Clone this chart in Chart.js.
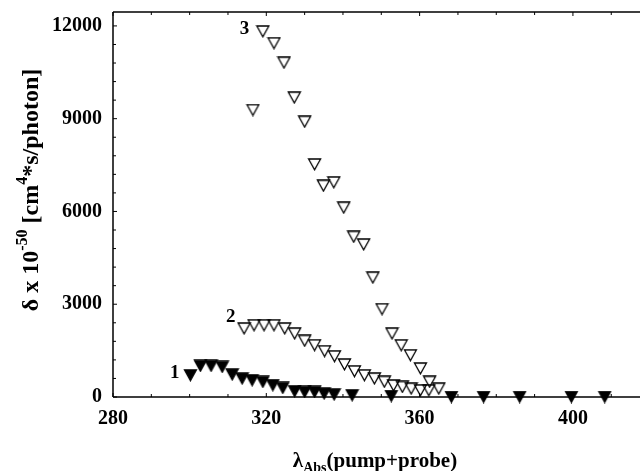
<!DOCTYPE html>
<html>
<head>
<meta charset="utf-8">
<script src="https://cdn.jsdelivr.net/npm/chart.js@4.4.0/dist/chart.umd.min.js"></script>
<style>
  html, body { margin:0; padding:0; background:#fff; }
</style>
</head>
<body>
<canvas id="myChart" width="640" height="471"></canvas>
<script>
//---------------------------------Data-------------------------------//
// series 1 (filled triangles)
var wl1 = [300.2, 302.8, 305.6, 308.5, 311.1, 313.7, 316.3, 319.1, 321.7, 324.3, 327.4, 330.0, 332.6, 335.1, 337.7, 342.4, 352.6, 368.3, 376.7, 386.1, 399.6, 408.3];
var delta1 = [700, 1005, 1005, 972, 725, 595, 540, 486, 380, 292, 185, 162, 162, 110, 78, 55, 32, 0, 0, 0, 0, 0];

// series 2 (open triangles)
var wl2 = [314.2, 316.8, 319.4, 322.0, 324.8, 327.4, 330.0, 332.6, 335.2, 337.8, 340.4, 343.0, 345.6, 348.2, 350.8, 353.2, 355.5, 357.8, 360.2, 362.4, 365.0];
var delta2 = [2215, 2320, 2320, 2320, 2215, 2050, 1815, 1675, 1480, 1315, 1050, 830, 700, 595, 490, 370, 325, 270, 215, 215, 270];

// series 3 (open triangles)
var wl3 = [316.5, 319.1, 322.0, 324.6, 327.3, 330.0, 332.6, 334.9, 337.6, 340.2, 342.8, 345.4, 347.8, 350.2, 352.8, 355.2, 357.6, 360.2, 362.6];
var delta3 = [9280, 11820, 11440, 10810, 9680, 8900, 7520, 6830, 6940, 6120, 5180, 4930, 3860, 2840, 2050, 1670, 1350, 920, 490];

// curve numbers and where they sit (data units)
var curveNames = ['1', '2', '3'];
var curveNameX = [296.1, 310.7, 314.3];
var curveNameY = [777, 2600, 11913];

// labelled ticks
var xMajor = [280, 320, 360, 400];
var yMajor = [0, 3000, 6000, 9000, 12000];
// small tick steps
var xMinorStep = 10;
var yMinorStep = 600;

var serif = "'Liberation Serif', 'Times New Roman', serif";

function toPoints(xs, ys){
  var pts = [];
  for (var i = 0; i < xs.length; i++){
    pts.push({x: xs[i], y: ys[i]});
  }
  return pts;
}

function isMajor(list, v){
  for (var i = 0; i < list.length; i++){
    if (Math.abs(list[i] - v) < 1e-6) return true;
  }
  return false;
}

function tickList(min, max, step){
  var out = [];
  for (var v = min; v <= max + 1e-9; v += step){
    out.push({value: v});
  }
  return out;
}

//Hàm vẽ tam giác ngược làm marker
function makeTriangle(filled){
  var c = document.createElement('canvas');
  c.width = 15; c.height = 13;
  var ctx = c.getContext('2d');
  ctx.beginPath();
  ctx.moveTo(1.5, 1);
  ctx.lineTo(13.5, 1);
  ctx.lineTo(7.5, 11.8);
  ctx.closePath();
  if (filled){ ctx.fillStyle = '#000'; ctx.fill(); }
  ctx.strokeStyle = '#000';
  ctx.lineWidth = 1.3;
  ctx.stroke();
  return c;
}

var filledTri = makeTriangle(true);
var openTri = makeTriangle(false);

// draws a run of text pieces (normal / super / sub) one after another
function drawRich(ctx, parts, x, y){
  var total = 0;
  parts.forEach(function(p){
    ctx.font = 'bold ' + p.size + 'px ' + serif;
    p.w = ctx.measureText(p.t).width;
    total += p.w;
  });
  var cx = x - total / 2;
  parts.forEach(function(p){
    ctx.font = 'bold ' + p.size + 'px ' + serif;
    ctx.fillText(p.t, cx, y + p.dy);
    cx += p.w;
  });
}

var framePlugin = {
  id: 'frame',
  afterDraw: function(chart){
    var ctx = chart.ctx;
    var a = chart.chartArea;
    var xs = chart.scales.x, ys = chart.scales.y;
    ctx.save();
    ctx.strokeStyle = '#000';
    ctx.lineWidth = 1.5;
    ctx.beginPath();
    ctx.moveTo(a.left, a.top); ctx.lineTo(a.right, a.top);
    ctx.moveTo(a.left, a.top); ctx.lineTo(a.left, a.bottom);
    ctx.moveTo(a.left, a.bottom); ctx.lineTo(a.right, a.bottom);
    ctx.stroke();

    // inward ticks
    ctx.lineWidth = 1;
    ctx.beginPath();
    xs.ticks.forEach(function(t){
      var px = xs.getPixelForValue(t.value);
      var len = isMajor(xMajor, t.value) ? 4 : 3;
      ctx.moveTo(px, a.bottom); ctx.lineTo(px, a.bottom - len);
      ctx.moveTo(px, a.top); ctx.lineTo(px, a.top + len);
    });
    ys.ticks.forEach(function(t){
      var py = ys.getPixelForValue(t.value);
      var len = isMajor(yMajor, t.value) ? 4 : 3;
      ctx.moveTo(a.left, py); ctx.lineTo(a.left + len, py);
    });
    ctx.stroke();

    // curve numbers
    ctx.fillStyle = '#000';
    ctx.font = 'bold 19px ' + serif;
    ctx.textAlign = 'center';
    ctx.textBaseline = 'middle';
    for (var i = 0; i < curveNames.length; i++){
      ctx.fillText(curveNames[i], xs.getPixelForValue(curveNameX[i]), ys.getPixelForValue(curveNameY[i]));
    }

    // x title
    ctx.textAlign = 'left';
    ctx.textBaseline = 'alphabetic';
    drawRich(ctx, [
      {t: 'λ', size: 21, dy: 0},
      {t: 'Abs', size: 14, dy: 5},
      {t: '(pump+probe)', size: 21, dy: 0}
    ], 375, 467);

    // y title
    ctx.translate(38, 190);
    ctx.rotate(-Math.PI / 2);
    drawRich(ctx, [
      {t: 'δ x 10', size: 24, dy: 0},
      {t: '-50', size: 16, dy: -11},
      {t: ' [cm', size: 24, dy: 0},
      {t: '4', size: 16, dy: -11},
      {t: '*s/photon]', size: 24, dy: 0}
    ], 0, 0);
    ctx.restore();
  }
};

new Chart('myChart', {
  type: 'scatter',
  data: {
    datasets: [
      {data: toPoints(wl1, delta1), pointStyle: filledTri, clip: false},
      {data: toPoints(wl2, delta2), pointStyle: openTri, clip: false},
      {data: toPoints(wl3, delta3), pointStyle: openTri, clip: false}
    ]
  },
  options: {
    responsive: false,
    animation: false,
    devicePixelRatio: 1,
    layout: {autoPadding: false, padding: {left: 0, right: 0, top: 12, bottom: 0}},
    plugins: {legend: {display: false}, tooltip: {enabled: false}},
    scales: {
      x: {
        type: 'linear', min: 280, max: 417.5,
        afterBuildTicks: function(s){ s.ticks = tickList(280, 410, xMinorStep); },
        afterFit: function(s){
          s.height = 74;
          s.paddingLeft = 0; s.paddingRight = 0;
        },
        grid: {display: false, drawTicks: false},
        border: {display: false},
        ticks: {
          autoSkip: false, maxRotation: 0, padding: 10,
          color: '#000',
          font: {family: serif, weight: 'bold', size: 20},
          callback: function(v){ return isMajor(xMajor, v) ? v : ''; }
        }
      },
      y: {
        min: 0, max: 12450,
        afterBuildTicks: function(s){ s.ticks = tickList(0, 12000, yMinorStep); },
        afterFit: function(s){
          s.width = 113;
          s.paddingTop = 0; s.paddingBottom = 0;
        },
        grid: {display: false, drawTicks: false},
        border: {display: false},
        ticks: {
          autoSkip: false, padding: 11,
          color: '#000',
          font: {family: serif, weight: 'bold', size: 20},
          callback: function(v){ return isMajor(yMajor, v) ? v : ''; }
        }
      }
    }
  },
  plugins: [framePlugin]
});
</script>
</body>
</html>
